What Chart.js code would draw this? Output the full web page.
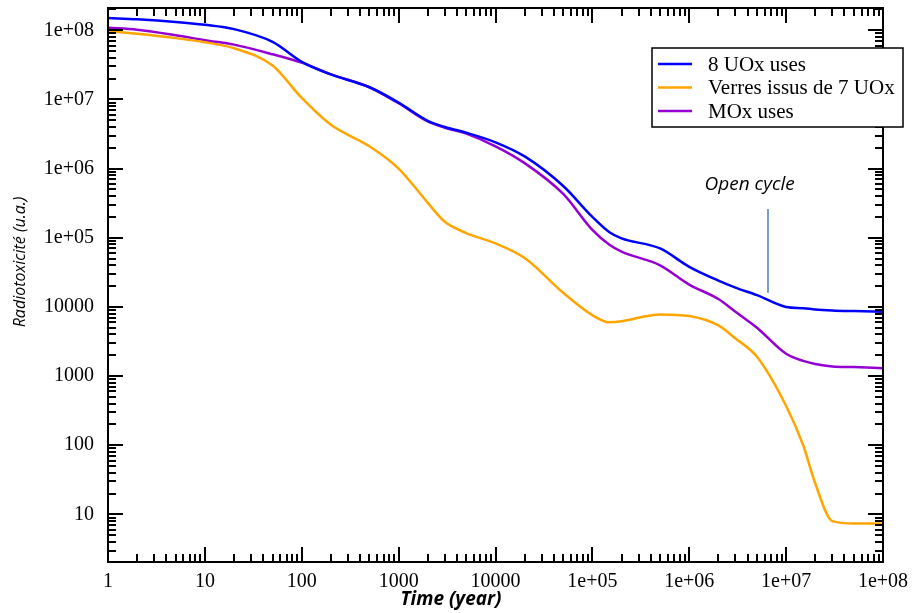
<!DOCTYPE html>
<html>
<head>
<meta charset="utf-8">
<script src="https://cdn.jsdelivr.net/npm/chart.js@4.4.1/dist/chart.umd.min.js"></script>
<style>
  html, body { margin: 0; padding: 0; background: #fff; }
</style>
</head>
<body>
<canvas id="radioChart" width="914" height="613"></canvas>
<script>
// ---- données ----
const annees = [1, 2, 5, 10, 20, 50, 100, 200, 500, 1e3, 2e3, 3e3, 5e3, 1e4, 2e4, 5e4,
  1e5, 1.5e5, 2e5, 5e5, 1e6, 2e6, 3e6, 5e6, 1e7, 1.5e7, 2e7, 3e7, 5e7, 1e8];

const uoxUses = [1.5e8, 1.44e8, 1.32e8, 1.2e8, 1.04e8, 6.8e7, 3.5e7, 2.3e7, 1.5e7, 9.0e6,
  4.9e6, 4.0e6, 3.3e6, 2.4e6, 1.5e6, 5.6e5, 2.0e5, 1.2e5, 9.8e4, 7.0e4,
  3.8e4, 2.4e4, 1.9e4, 1.48e4, 1.0e4, 9.6e3, 9.2e3, 8.9e3, 8.7e3, 8.5e3];

const verres7Uox = [9.7e7, 8.9e7, 7.7e7, 6.7e7, 5.5e7, 3.1e7, 1.05e7, 4.3e6, 2.1e6, 1.0e6,
  3.2e5, 1.7e5, 1.17e5, 8.3e4, 5.1e4, 1.6e4, 7.6e3, 6.0e3, 6.2e3, 7.8e3,
  7.4e3, 5.4e3, 3.5e3, 1.9e3, 370, 100, 28, 8, 7.4, 7.4];

const moxUses = [1.09e8, 1.02e8, 8.5e7, 7.2e7, 6.2e7, 4.5e7, 3.4e7, 2.3e7, 1.5e7, 8.8e6,
  4.8e6, 3.9e6, 3.2e6, 2.1e6, 1.2e6, 4.3e5, 1.3e5, 7.9e4, 6.3e4, 4.0e4,
  2.1e4, 1.3e4, 8.5e3, 5.0e3, 2.1e3, 1.66e3, 1.5e3, 1.38e3, 1.35e3, 1.3e3];

const ticksX = [1, 10, 100, 1e3, 1e4, 1e5, 1e6, 1e7, 1e8];
const ticksY = [10, 100, 1e3, 1e4, 1e5, 1e6, 1e7, 1e8];

const series = [
  { label: '8 UOx uses', data: uoxUses, color: '#0000ff' },
  { label: 'Verres issus de 7 UOx', data: verres7Uox, color: '#ffa500' },
  { label: 'MOx uses', data: moxUses, color: '#9400d3' }
];

const serif = '"Liberation Serif", "Times New Roman", serif';
const sans = '"Open Sans", "Noto Sans", sans-serif';

function etiquette(v) {
  const e = Math.round(Math.log10(v));
  return e >= 5 ? '1e+' + String(e).padStart(2, '0') : String(v);
}

// cadre, graduations internes, légende et titres
const decor = {
  id: 'decor',
  afterDraw(chart) {
    const { ctx, chartArea: a, scales: { x, y } } = chart;
    ctx.save();
    ctx.strokeStyle = '#000';
    ctx.lineWidth = 2;
    ctx.beginPath();
    for (let e = 0; e <= 8; e++) {
      for (let k = 1; k <= 9; k++) {
        const v = k * Math.pow(10, e);
        const len = k === 1 ? 15 : 8;
        if (v >= x.min && v <= x.max) {
          const px = Math.round(x.getPixelForValue(v));
          ctx.moveTo(px, a.bottom); ctx.lineTo(px, a.bottom - len);
          ctx.moveTo(px, a.top); ctx.lineTo(px, a.top + len);
        }
        if (v >= y.min && v <= y.max) {
          const py = Math.round(y.getPixelForValue(v));
          ctx.moveTo(a.left, py); ctx.lineTo(a.left + len, py);
          ctx.moveTo(a.right, py); ctx.lineTo(a.right - len, py);
        }
      }
    }
    ctx.stroke();
    ctx.strokeRect(a.left, a.top, a.right - a.left, a.bottom - a.top);

    // annotation "Open cycle"
    ctx.strokeStyle = '#4a7fc1';
    ctx.lineWidth = 1.5;
    const ax = x.getPixelForValue(6.5e6);
    ctx.beginPath();
    ctx.moveTo(ax, y.getPixelForValue(2.6e5));
    ctx.lineTo(ax, y.getPixelForValue(1.6e4));
    ctx.stroke();
    ctx.fillStyle = '#000';
    ctx.font = 'italic 19px ' + sans;
    ctx.textAlign = 'center';
    ctx.textBaseline = 'middle';
    ctx.fillText('Open cycle', x.getPixelForValue(4.2e6), y.getPixelForValue(5.9e5));

    // légende
    const lx = 652, ly = 48, lw = 251, lh = 79;
    ctx.fillStyle = '#fff';
    ctx.fillRect(lx, ly, lw, lh);
    ctx.strokeStyle = '#000';
    ctx.lineWidth = 1.5;
    ctx.strokeRect(lx, ly, lw, lh);
    ctx.font = '21px ' + serif;
    ctx.textAlign = 'left';
    series.forEach((s, i) => {
      const ry = 64 + i * 23.5;
      ctx.strokeStyle = s.color;
      ctx.lineWidth = 2.5;
      ctx.beginPath();
      ctx.moveTo(658, ry); ctx.lineTo(692, ry);
      ctx.stroke();
      ctx.fillStyle = '#000';
      ctx.fillText(s.label, 708, ry + 1);
    });

    // titres des axes
    ctx.font = 'italic bold 19px ' + sans;
    ctx.textAlign = 'center';
    ctx.fillText('Time (year)', 451, 600);
    ctx.translate(20, 262);
    ctx.rotate(-Math.PI / 2);
    ctx.font = 'italic 16px ' + sans;
    ctx.fillText('Radiotoxicité (u.a.)', 0, 0);
    ctx.restore();
  }
};

const ctx = document.getElementById('radioChart').getContext('2d');
new Chart(ctx, {
  type: 'line',
  data: {
    datasets: series.map(s => ({
      label: s.label,
      data: annees.map((t, i) => ({ x: t, y: s.data[i] })),
      borderColor: s.color,
      borderWidth: 2.5,
      pointRadius: 0,
      fill: false,
      cubicInterpolationMode: 'monotone'
    }))
  },
  options: {
    responsive: false,
    animation: false,
    devicePixelRatio: 1,
    layout: { padding: { top: 8, right: 31, left: 0, bottom: 0 } },
    plugins: { legend: { display: false }, tooltip: { enabled: false } },
    scales: {
      x: {
        type: 'logarithmic',
        min: 1, max: 1e8,
        grid: { display: false },
        border: { display: false },
        afterBuildTicks: sc => { sc.ticks = ticksX.map(v => ({ value: v })); },
        afterFit: sc => { sc.height = 51; sc.paddingLeft = 0; sc.paddingRight = 0; },
        ticks: {
          autoSkip: false, maxRotation: 0, padding: 0,
          color: '#000', font: { family: serif, size: 20 },
          callback: v => etiquette(v)
        }
      },
      y: {
        type: 'logarithmic',
        min: 2.05, max: 2.1e8,
        grid: { display: false },
        border: { display: false },
        afterBuildTicks: sc => { sc.ticks = ticksY.map(v => ({ value: v })); },
        afterFit: sc => { sc.width = 108; sc.paddingTop = 0; sc.paddingBottom = 0; },
        ticks: {
          autoSkip: false, padding: 6,
          color: '#000', font: { family: serif, size: 20 },
          callback: v => etiquette(v)
        }
      }
    }
  },
  plugins: [decor]
});
</script>
</body>
</html>
